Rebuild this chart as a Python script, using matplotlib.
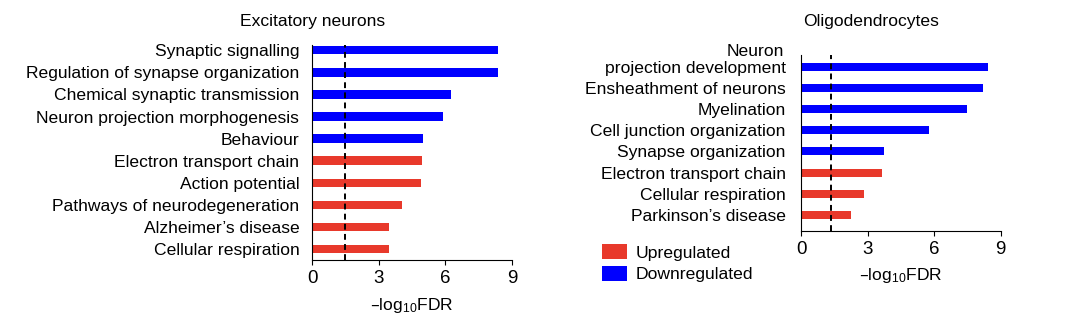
import matplotlib
matplotlib.use("Agg")
import matplotlib.pyplot as plt
from matplotlib.patches import Patch

plt.rcParams['font.family'] = ['Liberation Sans', 'DejaVu Sans']
plt.rcParams['mathtext.default'] = 'regular'
plt.rcParams['font.size'] = 12.6

# Excitatory neurons
exc_terms = ['Synaptic signalling', 'Regulation of synapse organization',
             'Chemical synaptic transmission', 'Neuron projection morphogenesis',
             'Behaviour', 'Electron transport chain', 'Action potential',
             'Pathways of neurodegeneration', "Alzheimer\u2019s disease",
             'Cellular respiration']
exc_vals = [8.36, 8.36, 6.27, 5.88, 5.01, 4.94, 4.89, 4.07, 3.48, 3.48]
exc_dir = ['down'] * 5 + ['up'] * 5
exc_cut = 1.47

# Oligodendrocytes
oli_terms = ['projection development', 'Ensheathment of neurons', 'Myelination',
             'Cell junction organization', 'Synapse organization',
             'Electron transport chain', 'Cellular respiration',
             "Parkinson\u2019s disease"]
oli_vals = [8.41, 8.19, 7.48, 5.75, 3.74, 3.64, 2.83, 2.27]
oli_dir = ['down'] * 5 + ['up'] * 3
oli_cut = 1.35

xticks = [0, 3, 6, 9]
colors = {'up': '#e8392b', 'down': '#0000ff'}

fig = plt.figure(figsize=(10.8, 3.29), dpi=100)
ax1 = fig.add_axes([0.2889, 0.2097, 0.1852, 0.6535])
ax2 = fig.add_axes([0.7417, 0.2988, 0.1849, 0.5340])


def panel(ax, terms, vals, dirs, cut, ylim, pad):
    ys = list(range(len(terms)))
    ax.barh(ys, vals, height=0.38, color=[colors[d] for d in dirs])
    ax.axvline(cut, color='black', ls=(0, (3, 2.2)), lw=1.4)
    ax.set_ylim(*ylim)
    ax.set_xlim(0, 9)
    ax.set_xticks(xticks)
    ax.set_yticks(ys)
    ax.set_yticklabels(terms)
    ax.tick_params(axis='y', length=0, pad=pad)
    ax.tick_params(axis='x', length=3.5, width=0.8, pad=4, labelsize=13.5)
    for s in ['top', 'right']:
        ax.spines[s].set_visible(False)
    for s in ['left', 'bottom']:
        ax.spines[s].set_linewidth(0.8)
    ax.set_xlabel('\u2013log$_{10}$FDR', labelpad=6)


panel(ax1, exc_terms, exc_vals, exc_dir, exc_cut, (9.5, -0.24), 9.1)
panel(ax2, oli_terms, oli_vals, oli_dir, oli_cut, (7.74, -0.55), 11.0)

# first oligodendrocyte term wraps onto two lines
ax2.annotate('Neuron', xy=(0, 0), xycoords=('axes fraction', 'data'),
             xytext=(-12.5, 11.0), textcoords='offset points',
             ha='right', va='center')

fig.text(0.2894, 0.936, 'Excitatory neurons', ha='center', va='center')
fig.text(0.8065, 0.936, 'Oligodendrocytes', ha='center', va='center')

handles = [Patch(facecolor=colors['up'], edgecolor='none', label='Upregulated'),
           Patch(facecolor=colors['down'], edgecolor='none', label='Downregulated')]
fig.legend(handles=handles, loc='upper left', bbox_to_anchor=(602 / 1080, 1 - 244 / 329),
           frameon=False, handlelength=1.4, handleheight=0.97, labelspacing=0.28,
           handletextpad=0.5, borderpad=0, borderaxespad=0)

fig.savefig('out.png', dpi=100)
